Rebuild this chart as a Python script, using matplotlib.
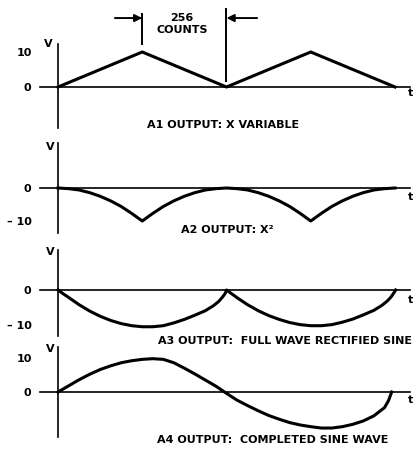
import matplotlib.pyplot as plt

marker_counts = [256, 512]
marker_text = ["256", "COUNTS"]

a1_counts = [0, 256, 512, 768, 1024]
a1_volts = [0, 10, 0, 10, 0]

a2_counts = [0, 32, 64, 96, 128, 160, 192, 224, 256, 288, 320, 352, 384, 416, 448, 480, 512,
             544, 576, 608, 640, 672, 704, 736, 768, 800, 832, 864, 896, 928, 960, 992, 1024]
a2_volts = [0, -0.2, -0.6, -1.4, -2.5, -3.9, -5.6, -7.7, -10, -7.7, -5.6, -3.9, -2.5, -1.4, -0.6, -0.2, 0,
            -0.2, -0.6, -1.4, -2.5, -3.9, -5.6, -7.7, -10, -7.7, -5.6, -3.9, -2.5, -1.4, -0.6, -0.2, 0]

a3_counts = [0, 16, 32, 64, 96, 128, 160, 192, 224, 256, 288, 320, 352, 384, 416, 448, 472, 488, 500, 508, 512,
             528, 544, 576, 608, 640, 672, 704, 736, 768, 800, 832, 864, 896, 928, 960, 984, 1000, 1012, 1020, 1026]
a3_volts = [0, -1.1, -2.1, -4.2, -6.0, -7.5, -8.7, -9.6, -10.2, -10.5, -10.5, -10.2, -9.4, -8.4, -7.2, -5.9, -4.5, -3.3, -2.0, -1.0, 0,
            -1.1, -2.2, -4.2, -5.9, -7.3, -8.4, -9.3, -9.9, -10.2, -10.2, -9.9, -9.2, -8.3, -7.1, -5.8, -4.4, -3.2, -2.0, -0.9, 0]

a4_counts = [0, 32, 64, 96, 128, 160, 192, 224, 256, 288, 320, 352, 384, 416, 448, 480, 512,
             544, 576, 608, 640, 672, 704, 736, 768, 800, 832, 864, 896, 928, 960, 992, 1004, 1014]
a4_volts = [0, 1.8, 3.6, 5.2, 6.6, 7.7, 8.6, 9.2, 9.6, 9.8, 9.6, 8.6, 7.0, 5.3, 3.5, 1.7, -0.4,
            -2.4, -4.0, -5.5, -6.9, -8.0, -9.0, -9.7, -10.2, -10.6, -10.6, -10.2, -9.5, -8.5, -7.0, -4.6, -2.6, 0]

a1_ticks, a1_ticklabels = [0, 10], ["0", "10"]
a2_ticks, a2_ticklabels = [0, -10], ["0", "\u2013 10"]
a3_ticks, a3_ticklabels = [0, -10], ["0", "\u2013 10"]
a4_ticks, a4_ticklabels = [0, 10], ["0", "10"]

titles = ["A1 OUTPUT: X VARIABLE", "A2 OUTPUT: X\u00b2",
          "A3 OUTPUT:  FULL WAVE RECTIFIED SINE", "A4 OUTPUT:  COMPLETED SINE WAVE"]

W, H, DPI = 414, 449, 100
T0_PX = 58                        # пиксель, где t = 0
PX_PER_COUNT = (395 - 58) / 1024
FONT = dict(fontsize=8, fontweight="bold", family="DejaVu Sans")

fig = plt.figure(figsize=(W / DPI, H / DPI), dpi=DPI)


def panel(zero_px, px_per_volt, top_px, bot_px, ticks, ticklabels):
    ax = fig.add_axes([0, 0, 1, 1])
    ax.patch.set_alpha(0)
    ax.set_xlim(-T0_PX / PX_PER_COUNT, (W - T0_PX) / PX_PER_COUNT)
    ax.set_ylim(-(H - zero_px) / px_per_volt, zero_px / px_per_volt)
    for side in ["top", "right"]:
        ax.spines[side].set_visible(False)
    ax.spines["left"].set_position(("data", 0))
    ax.spines["left"].set_bounds((zero_px - bot_px) / px_per_volt, (zero_px - top_px) / px_per_volt)
    ax.spines["bottom"].set_position(("data", 0))
    ax.spines["bottom"].set_bounds((40 - T0_PX) / PX_PER_COUNT, (410 - T0_PX) / PX_PER_COUNT)
    for side in ["left", "bottom"]:
        ax.spines[side].set_linewidth(1.2)
    ax.set_xticks([])
    ax.set_yticks(ticks, ticklabels)
    ax.tick_params(axis="y", length=0, pad=19)
    for lbl in ax.get_yticklabels():
        lbl.set_fontweight("bold")
        lbl.set_fontsize(8)
    return ax


def label(x_px, y_px, s, ha="center"):
    fig.text(x_px / W, 1 - y_px / H, s, ha=ha, va="center", **FONT)


ax1 = panel(87, 3.5, 44, 128, a1_ticks, a1_ticklabels)
ax1.plot(a1_counts, a1_volts, color="black", lw=2.2, solid_joinstyle="miter")
ax1.vlines(marker_counts[0], 12.0, 21.1, color="black", lw=1.4)
ax1.vlines(marker_counts[1], 1.4, 22.6, color="black", lw=1.4)
arrow = dict(arrowstyle="-|>", color="black", lw=1.4, mutation_scale=11, shrinkA=0, shrinkB=0)
ax1.annotate("", xy=(marker_counts[0], 19.7), xytext=(173, 19.7), arrowprops=arrow)
ax1.annotate("", xy=(marker_counts[1], 19.7), xytext=(605, 19.7), arrowprops=arrow)

ax2 = panel(188, 3.3, 143, 233, a2_ticks, a2_ticklabels)
ax2.plot(a2_counts, a2_volts, color="black", lw=2.2)

ax3 = panel(290, 3.5, 250, 336, a3_ticks, a3_ticklabels)
ax3.plot(a3_counts, a3_volts, color="black", lw=2.2)

ax4 = panel(392, 3.4, 347, 437, a4_ticks, a4_ticklabels)
ax4.plot(a4_counts, a4_volts, color="black", lw=2.2)

label(182, 18, marker_text[0])
label(182, 30, marker_text[1])

for x, y in [(48, 44), (50, 147), (50, 252), (50, 349)]:
    label(x, y, "V")
for y in [93, 197, 300, 400]:
    label(411, y, "t")

label(223, 125, titles[0])
label(181, 230, titles[1], ha="left")
label(158, 341, titles[2], ha="left")
label(157, 440, titles[3], ha="left")

fig.savefig("out.png", dpi=DPI)
